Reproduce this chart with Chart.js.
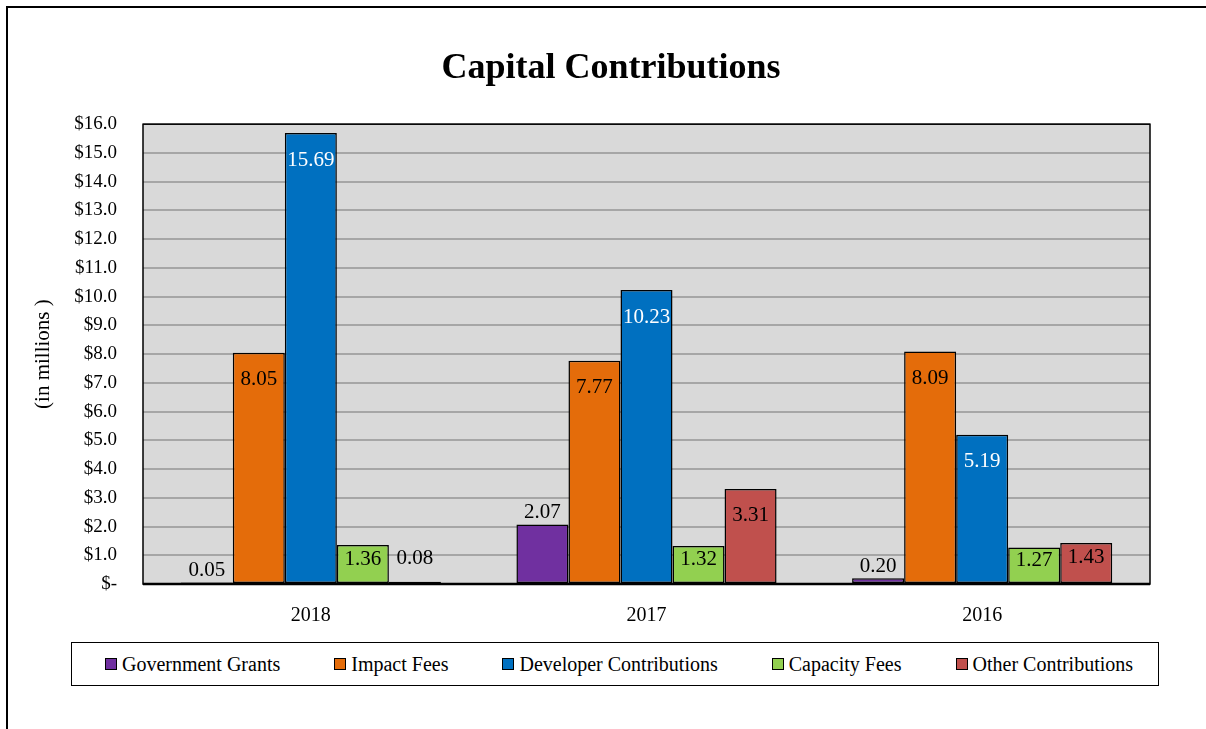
<!DOCTYPE html>
<html>
<head>
<meta charset="utf-8">
<title>Capital Contributions</title>
<script src="https://cdn.jsdelivr.net/npm/chart.js@4.4.1/dist/chart.umd.min.js"></script>
<style>
  html, body { margin: 0; padding: 0; background: #fff; overflow: hidden; }
  #wrap { position: relative; width: 1206px; height: 729px; overflow: hidden; }
  #frame { position: absolute; left: 6px; top: 6px; width: 1300px; height: 900px;
           border: 2px solid #000; box-sizing: border-box; }
  #chart { position: absolute; left: 0; top: 0; }
  #legend { position: absolute; left: 71px; top: 642px; width: 1088px; height: 44px;
            border: 1.5px solid #000; box-sizing: border-box; background: #fff;
            display: flex; align-items: center; justify-content: center; gap: 54px;
            padding-left: 8px;
            font: 20px "Liberation Serif", "Times New Roman", serif; color: #000; }
  #legend .item { display: flex; align-items: center; white-space: nowrap; }
  #legend .swatch { width: 10px; height: 10px; border: 1.5px solid #000; margin-right: 5px; }
</style>
</head>
<body>
<div id="wrap">
  <div id="frame"></div>
  <canvas id="chart" width="1206" height="729"></canvas>
  <div id="legend"></div>
</div>
<script>
// Fiscal years shown on the x axis
const categories = ['2018', '2017', '2016'];

// Contribution amounts, in millions of dollars
const governmentGrants       = [0.05, 2.07, 0.20];
const impactFees             = [8.05, 7.77, 8.09];
const developerContributions = [15.69, 10.23, 5.19];
const capacityFees           = [1.36, 1.32, 1.27];
const otherContributions     = [0.08, 3.31, 1.43];

const seriesNames = ['Government Grants', 'Impact Fees', 'Developer Contributions',
                     'Capacity Fees', 'Other Contributions'];

// Y axis tick labels, $0 through $16 million (accounting style zero)
const yTickLabels = ['$-', '$1.0', '$2.0', '$3.0', '$4.0', '$5.0', '$6.0', '$7.0', '$8.0',
                     '$9.0', '$10.0', '$11.0', '$12.0', '$13.0', '$14.0', '$15.0', '$16.0'];

// Styling for each series
const seriesColors = ['#7030A0', '#E46C0A', '#0070C0', '#92D050', '#C0504D'];
const labelInk     = ['#000', '#000', '#fff', '#000', '#000'];
// Where each value label sits relative to its bar
const labelPlacement = [
  ['above', 'above', 'above'],
  ['inside', 'inside', 'inside'],
  ['inside', 'inside', 'inside'],
  ['inside', 'inside', 'inside'],
  ['aboveFar', 'inside', 'inside']
];

const FONT = '"Liberation Serif", "Times New Roman", serif';
const seriesValues = [governmentGrants, impactFees, developerContributions, capacityFees, otherContributions];

// Gray plot background behind the grid
const plotBackground = {
  id: 'plotBackground',
  beforeDraw(chart) {
    const { ctx, chartArea: a } = chart;
    ctx.save();
    ctx.fillStyle = '#D9D9D9';
    ctx.fillRect(a.left, a.top, a.right - a.left, a.bottom - a.top);
    ctx.restore();
  }
};

// Black outline around the plot area and a heavier category axis line
const plotBorder = {
  id: 'plotBorder',
  afterDatasetsDraw(chart) {
    const { ctx, chartArea: a } = chart;
    ctx.save();
    ctx.strokeStyle = '#000';
    ctx.lineWidth = 1.5;
    ctx.strokeRect(a.left, a.top, a.right - a.left, a.bottom - a.top);
    ctx.lineWidth = 2.5;
    ctx.beginPath();
    ctx.moveTo(a.left, a.bottom);
    ctx.lineTo(a.right, a.bottom);
    ctx.stroke();
    ctx.restore();
  }
};

// Value labels on every bar
const valueLabels = {
  id: 'valueLabels',
  afterDatasetsDraw(chart) {
    const ctx = chart.ctx;
    ctx.save();
    ctx.font = '21px ' + FONT;
    ctx.textAlign = 'center';
    ctx.textBaseline = 'middle';
    chart.data.datasets.forEach((ds, di) => {
      const meta = chart.getDatasetMeta(di);
      meta.data.forEach((bar, i) => {
        const v = ds.data[i];
        const h = bar.base - bar.y;
        const place = labelPlacement[di][i];
        let y;
        if (place === 'inside') y = bar.y + Math.min(27, h * 0.37);
        else if (place === 'aboveFar') y = bar.y - 23;
        else y = bar.y - 12;
        ctx.fillStyle = place === 'inside' ? labelInk[di] : '#000';
        ctx.fillText(v.toFixed(2), bar.x, y);
      });
    });
    ctx.restore();
  }
};

const chart = new Chart(document.getElementById('chart'), {
  type: 'bar',
  data: {
    labels: categories,
    datasets: seriesNames.map((name, i) => ({
      label: name,
      data: seriesValues[i],
      backgroundColor: seriesColors[i],
      borderColor: '#000',
      borderWidth: 1.5,
      borderSkipped: false,
      categoryPercentage: 0.775,
      barPercentage: 1.0
    }))
  },
  options: {
    responsive: false,
    animation: false,
    devicePixelRatio: 1,
    events: [],
    layout: { padding: { top: 0, left: 16, right: 0, bottom: 85 } },
    plugins: {
      legend: { display: false },
      tooltip: { enabled: false },
      title: {
        display: true,
        text: 'Capital Contributions',
        color: '#000',
        font: { family: FONT, size: 36, weight: 'bold' },
        padding: { top: 47, bottom: 34 }
      }
    },
    scales: {
      x: {
        grid: { display: false, drawTicks: false },
        border: { display: false },
        ticks: { color: '#000', font: { family: FONT, size: 20 }, padding: 20 },
        afterFit(s) { s.height = 60; }
      },
      y: {
        min: 0,
        max: 16,
        grid: { color: '#A6A6A6', lineWidth: 2, drawTicks: false },
        border: { display: false },
        ticks: {
          stepSize: 1,
          color: '#000',
          padding: 26,
          font: { family: FONT, size: 19 },
          callback: (v) => yTickLabels[v]
        },
        title: {
          display: true,
          text: '(in millions )',
          color: '#000',
          font: { family: FONT, size: 21 },
          padding: { top: 15, bottom: 0 }
        },
        afterFit(s) { s.width = 127; }
      },
      // empty margin on the right of the plot
      yMargin: {
        type: 'linear',
        position: 'right',
        display: true,
        grid: { display: false, drawTicks: false },
        border: { display: false },
        ticks: { display: false },
        afterFit(s) { s.width = 56; }
      }
    }
  },
  plugins: [plotBackground, plotBorder, valueLabels]
});

// Legend built from the chart's own datasets
const legendEl = document.getElementById('legend');
chart.data.datasets.forEach((ds) => {
  const item = document.createElement('div');
  item.className = 'item';
  const sw = document.createElement('span');
  sw.className = 'swatch';
  sw.style.background = ds.backgroundColor;
  const tx = document.createElement('span');
  tx.textContent = ds.label;
  item.appendChild(sw);
  item.appendChild(tx);
  legendEl.appendChild(item);
});
</script>
</body>
</html>
